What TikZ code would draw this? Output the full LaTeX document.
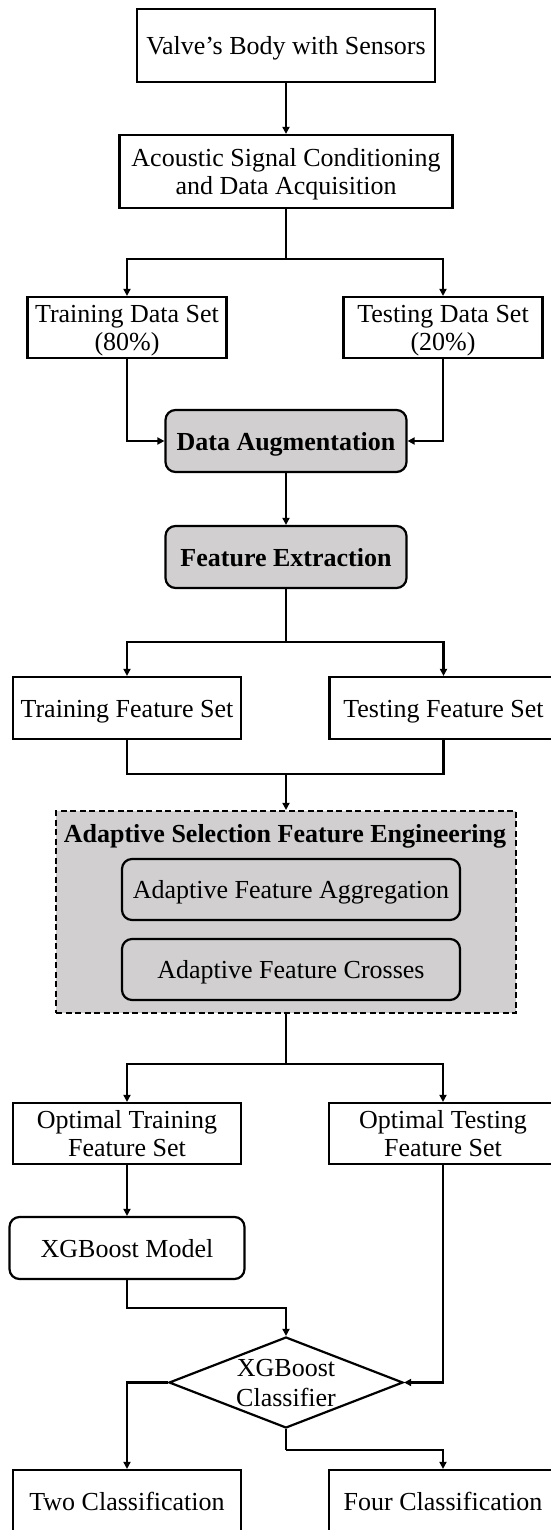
\documentclass[tikz,border=0pt]{standalone}
\usepackage{fontspec}
\setmainfont{Liberation Serif}
\usetikzlibrary{arrows.meta,shapes.geometric}
\definecolor{gfill}{RGB}{209,207,208}
\begin{document}
\begin{tikzpicture}[x=1pt,y=-1pt,
  every node/.style={font=\fontsize{26}{28}\selectfont, inner sep=0pt, text height=24pt, text depth=6pt, align=center},
  twoline/.style={text height=52pt},
  box/.style={draw, line width=2.2pt, rectangle},
  rbox/.style={box, rounded corners=10pt},
  gbox/.style={rbox, fill=gfill},
  boldtext/.style={font=\fontsize{26}{28}\selectfont\bfseries},
  conn/.style={line width=2.2pt},
  arr/.style={conn, -{Triangle[width=7pt,length=7pt]}},
]
\useasboundingbox (0,0) rectangle (551,1530);

\node[box, minimum width=298pt, minimum height=73pt] (b1) at (286,45.5) {Valve’s Body with Sensors};
\node[box, twoline, minimum width=333pt, minimum height=73pt] (b2) at (286,171.5) {Acoustic Signal Conditioning\\and Data Acquisition};
\coordinate (s1) at (286,259);
\node[box, twoline, minimum width=199pt, minimum height=61pt] (trd) at (127,327.5) {Training Data Set\\(80\%)};
\node[box, twoline, minimum width=199pt, minimum height=61pt] (ted) at (443,327.5) {Testing Data Set\\(20\%)};
\node[gbox, boldtext, minimum width=241pt, minimum height=62pt] (da) at (286,441) {Data Augmentation};
\node[gbox, boldtext, minimum width=241pt, minimum height=62pt] (fe) at (286,557) {Feature Extraction};
\coordinate (s2) at (286,642);
\node[box, minimum width=228pt, minimum height=62pt] (trf) at (127,708) {Training Feature Set};
\node[box, minimum width=228pt, minimum height=62pt] (tef) at (443.5,708) {Testing Feature Set};
\coordinate (m1) at (286,774);

\node[draw, line width=2.2pt, dash pattern=on 6pt off 3.5pt, fill=gfill, minimum width=460pt, minimum height=202pt] (asfe) at (286,912) {};
\node[boldtext, anchor=base] (asfet) at (285,842) {Adaptive Selection Feature Engineering};
\node[gbox, minimum width=338pt, minimum height=61pt] (afa) at (291,889.5) {Adaptive Feature Aggregation};
\node[gbox, minimum width=338pt, minimum height=61pt] (afc) at (291,969.5) {Adaptive Feature Crosses};
\coordinate (s3) at (286,1064);

\node[box, twoline, minimum width=228pt, minimum height=61pt] (otr) at (127,1133.5) {Optimal Training\\Feature Set};
\node[box, twoline, minimum width=228pt, minimum height=61pt] (ote) at (443,1133.5) {Optimal Testing\\Feature Set};
\node[rbox, minimum width=235pt, minimum height=62pt] (xgm) at (127,1248) {XGBoost Model};
\coordinate (k1) at (286,1308);
\node[draw, diamond, line width=2.2pt, minimum width=234pt, minimum height=91pt, inner sep=0pt] (dia) at (286,1382.5) {};
\node[font=\fontsize{26}{29.5}\selectfont, text height=53.5pt] (diat) at (dia.center) {XGBoost\\Classifier};
\coordinate (k2) at (286,1450);
\node[box, minimum width=228pt, minimum height=62pt] (two) at (127,1501) {Two Classification};
\node[box, minimum width=228pt, minimum height=62pt] (four) at (443,1501) {Four Classification};

\draw[arr] (b1) -- (b2);
\draw[conn] (b2) -- (s1);
\draw[arr] (s1) -| (trd);
\draw[arr] (s1) -| (ted);
\draw[arr] (trd) |- (da);
\draw[arr] (ted) |- (da);
\draw[arr] (da) -- (fe);
\draw[conn] (fe) -- (s2);
\draw[arr] (s2) -| (trf);
\draw[arr] (s2) -| (tef);
\draw[conn] (trf) |- (m1) -| (tef);
\draw[arr] (m1) -- (asfe);
\draw[conn] (asfe) -- (s3);
\draw[arr] (s3) -| (otr);
\draw[arr] (s3) -| (ote);
\draw[arr] (otr) -- (xgm);
\draw[arr] (xgm) |- (k1) -- (dia.north);
\draw[arr] (ote) |- (dia.east);
\draw[arr] (dia.west) -| (two);
\draw[conn] (dia.south) -- (k2);
\draw[arr] (k2) -| (four);
\end{tikzpicture}
\end{document}
